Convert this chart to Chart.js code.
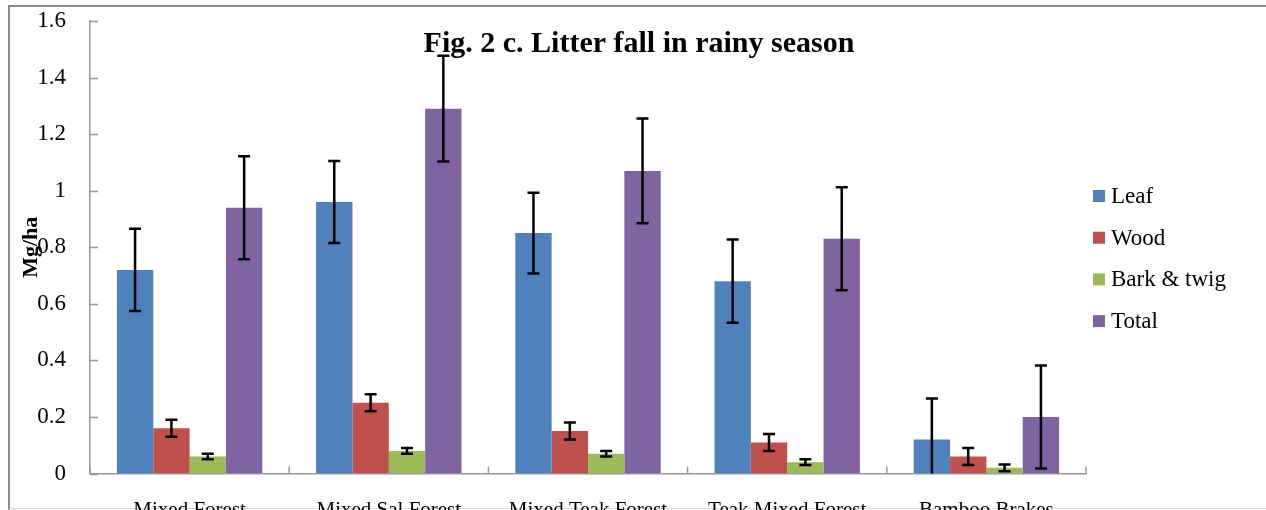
<!DOCTYPE html>
<html>
<head>
<meta charset="utf-8">
<script src="https://cdn.jsdelivr.net/npm/chart.js@4.4.1/dist/chart.umd.min.js"></script>
<style>
  body { margin: 0; background: #fff; }
  canvas { display: block; }
</style>
</head>
<body>
<canvas id="bar_chart" width="1266" height="510"></canvas>
<script>
// forest types
const forests = ['Mixed Forest', 'Mixed Sal Forest', 'Mixed Teak Forest', 'Teak Mixed Forest', 'Bamboo Brakes'];

// litter fall values (Mg/ha)
const leaf = [0.72, 0.96, 0.85, 0.68, 0.12];
const wood = [0.16, 0.25, 0.15, 0.11, 0.06];
const bark_twig = [0.06, 0.08, 0.07, 0.04, 0.02];
const total = [0.94, 1.29, 1.07, 0.83, 0.20];

// error bars (+/-)
const leaf_err = [0.145, 0.145, 0.143, 0.147, 0.145];
const wood_err = [0.03, 0.03, 0.03, 0.03, 0.03];
const bark_err = [0.01, 0.01, 0.01, 0.01, 0.012];
const total_err = [0.182, 0.187, 0.185, 0.182, 0.182];

const yTicks = [0, 0.2, 0.4, 0.6, 0.8, 1, 1.2, 1.4, 1.6];
const yTickLabels = ['0', '0.2', '0.4', '0.6', '0.8', '1', '1.2', '1.4', '1.6'];

const serif = '"Liberation Serif", "Times New Roman", serif';

const frame = {
    id: 'frame',
    beforeDraw(chart) {
        const c = chart.ctx;
        c.save();
        c.fillStyle = '#fff';
        c.fillRect(0, 0, chart.width, chart.height);
        c.strokeStyle = '#8c8c8c';
        c.lineWidth = 2;
        c.beginPath();
        c.moveTo(8, 6);
        c.lineTo(chart.width, 6);
        c.moveTo(9, 6);
        c.lineTo(9, chart.height);
        c.stroke();
        c.strokeStyle = '#d9d9d9';
        c.lineWidth = 1;
        c.beginPath();
        c.moveTo(9, 508.5);
        c.lineTo(chart.width, 508.5);
        c.stroke();
        c.restore();
    }
};

const errorBars = {
    id: 'errorBars',
    afterDatasetsDraw(chart) {
        const c = chart.ctx;
        const y = chart.scales.y;
        const area = chart.chartArea;
        c.save();
        c.strokeStyle = '#000';
        c.lineWidth = 2.5;
        chart.data.datasets.forEach((ds, i) => {
            const meta = chart.getDatasetMeta(i);
            meta.data.forEach((bar, j) => {
                const v = ds.data[j], e = ds.err[j];
                const yt = y.getPixelForValue(v + e);
                let yb = y.getPixelForValue(v - e);
                const clipped = yb > area.bottom;
                if (clipped) yb = area.bottom;
                c.beginPath();
                c.moveTo(bar.x, yt);
                c.lineTo(bar.x, yb);
                c.moveTo(bar.x - 6, yt);
                c.lineTo(bar.x + 6, yt);
                if (!clipped) {
                    c.moveTo(bar.x - 6, yb);
                    c.lineTo(bar.x + 6, yb);
                }
                c.stroke();
            });
        });
        c.restore();
    }
};

const extras = {
    id: 'extras',
    afterDraw(chart) {
        const c = chart.ctx;
        const x = chart.scales.x, y = chart.scales.y;
        const area = chart.chartArea;
        c.save();
        // inner tick marks
        c.strokeStyle = '#999';
        c.lineWidth = 1.5;
        c.beginPath();
        y.ticks.forEach(t => {
            const py = Math.round(y.getPixelForValue(t.value)) + 0.5;
            c.moveTo(area.left, py);
            c.lineTo(area.left + 8, py);
        });
        const step = (area.right - area.left) / forests.length;
        for (let i = 0; i <= forests.length; i++) {
            const px = x.getPixelForValue(i) - step / 2;
            c.moveTo(px, area.bottom);
            c.lineTo(px, area.bottom - 7);
        }
        c.stroke();

        // title
        c.fillStyle = '#000';
        c.font = 'bold 30px ' + serif;
        c.textAlign = 'center';
        c.textBaseline = 'alphabetic';
        c.fillText('Fig. 2 c. Litter fall in rainy season', 639, 52);

        // legend
        c.font = '23px ' + serif;
        c.textAlign = 'left';
        c.textBaseline = 'middle';
        chart.data.datasets.forEach((ds, i) => {
            const cy = 196 + i * 41.7;
            c.fillStyle = ds.backgroundColor;
            c.fillRect(1093, cy - 6, 12, 12);
            c.fillStyle = '#000';
            c.fillText(ds.label, 1111, cy + 1);
        });
        c.restore();
    }
};

const ctx = document.getElementById('bar_chart').getContext('2d');
const myChart = new Chart(ctx, {
    type: 'bar',
    data: {
        labels: forests,
        datasets: [
            { label: 'Leaf', data: leaf, err: leaf_err, backgroundColor: '#4F81BD' },
            { label: 'Wood', data: wood, err: wood_err, backgroundColor: '#C0504D' },
            { label: 'Bark & twig', data: bark_twig, err: bark_err, backgroundColor: '#9BBB59' },
            { label: 'Total', data: total, err: total_err, backgroundColor: '#8064A2' },
        ]
    },
    options: {
        responsive: false,
        animation: false,
        devicePixelRatio: 1,
        layout: { padding: { top: 21, right: 180, left: 0, bottom: 0 } },
        datasets: { bar: { categoryPercentage: 0.73, barPercentage: 1.0 } },
        plugins: {
            legend: { display: false },
            tooltip: { enabled: false },
        },
        scales: {
            x: {
                grid: { display: false, drawTicks: false },
                border: { display: true, color: '#999', width: 1.5 },
                ticks: { color: '#000', font: { family: serif, size: 21 }, padding: 24, maxRotation: 0 },
                afterFit(scale) {
                    scale.height = 36.5;
                    scale.paddingLeft = 0;
                    scale.paddingRight = 0;
                }
            },
            y: {
                min: 0,
                max: 1.6,
                afterBuildTicks(scale) { scale.ticks = yTicks.map(v => ({ value: v })); },
                grid: { display: false, drawTicks: false },
                border: { display: true, color: '#999', width: 1.5 },
                ticks: {
                    color: '#000',
                    font: { family: serif, size: 23 },
                    padding: 24,
                    callback: (v, i) => yTickLabels[i]
                },
                title: {
                    display: true,
                    text: 'Mg/ha',
                    color: '#000',
                    font: { family: serif, size: 22, weight: 'bold' },
                    padding: { top: 18, bottom: 0 }
                },
                afterFit(scale) {
                    scale.width = 90;
                    scale.paddingTop = 0;
                    scale.paddingBottom = 0;
                }
            }
        }
    },
    plugins: [frame, errorBars, extras]
});
</script>
</body>
</html>
